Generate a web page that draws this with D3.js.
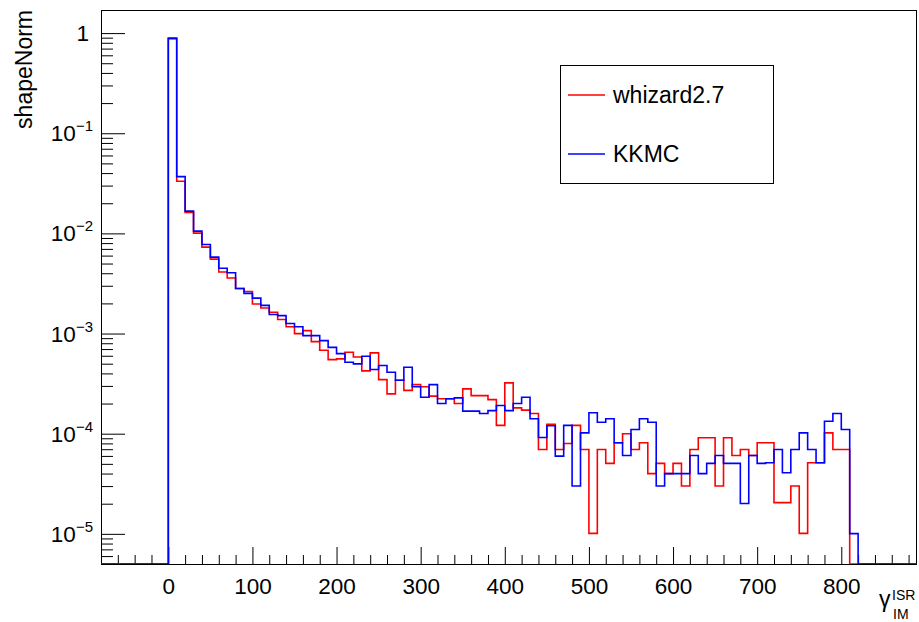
<!DOCTYPE html>
<html>
<head>
<meta charset="utf-8">
<script src="https://cdn.jsdelivr.net/npm/d3@7"></script>
<style>
  body { margin: 0; background: #fff; }
  text { font-family: "Liberation Sans", Arial, Helvetica, sans-serif; fill: #000; }
</style>
</head>
<body>
<div id="chart"></div>
<script>
// histogram bins: 10 units wide, first bin starts at 0
const binStart = 0, binWidth = 10;

// whizard2.7 (red), one entry per bin
const whizard = [
  0.898, 0.0332, 0.0162, 0.01007, 0.0073, 0.00554, 0.00412, 0.00359, 0.00282, 0.00263,
  0.00197, 0.0018, 0.00163, 0.00138, 0.00117, 0.000998, 0.00107, 0.00083, 0.00068, 0.000549,
  0.000558, 0.00065, 0.000584, 0.000424, 0.000641, 0.000347, 0.00025, 0.000342, 0.000271, 0.000309,
  0.000294, 0.000237, 0.000223, 0.000223, 0.0002, 0.00028, 0.00024, 0.00024, 0.000219, 0.000121,
  0.000322, 0.000181, 0.000172, 0.000159, 6.96e-5, 0.000124, 6.96e-5, 7.99e-5, 0.000121, 6.96e-5,
  1.01e-5, 6.96e-5, 5.05e-5, 8.12e-5, 0.0001, 6.96e-5, 8.12e-5, 3.99e-5, 5.05e-5, 3.99e-5,
  5.05e-5, 3.0e-5, 6.96e-5, 9.1e-5, 9.1e-5, 3.0e-5, 9.1e-5, 6.06e-5, 6.96e-5, 6.06e-5,
  8.12e-5, 8.12e-5, 2.05e-5, 2.05e-5, 3.0e-5, 1.01e-5, 5.13e-5, 5.13e-5, 0.000102, 6.96e-5,
  6.96e-5, 0
];

// KKMC (blue)
const kkmc = [
  0.877, 0.0369, 0.0167, 0.01054, 0.00775, 0.0058, 0.00449, 0.00405, 0.00282, 0.00252,
  0.00226, 0.00191, 0.00155, 0.00151, 0.00126, 0.00117, 0.000953, 0.000953, 0.00085, 0.000728,
  0.00063, 0.000516, 0.000498, 0.000593, 0.000437, 0.000479, 0.00041, 0.000342, 0.00046, 0.000294,
  0.000231, 0.000309, 0.0002, 0.000223, 0.000228, 0.000168, 0.000168, 0.000159, 0.00017, 0.000191,
  0.00017, 0.0002, 0.000231, 0.000141, 9.17e-5, 0.00012, 5.97e-5, 0.000121, 3.0e-5, 0.000102,
  0.000162, 0.00013, 0.000141, 8.12e-5, 6.06e-5, 0.00011, 0.000141, 0.00013, 3.0e-5, 3.99e-5,
  3.99e-5, 3.99e-5, 6.06e-5, 3.99e-5, 5.05e-5, 6.06e-5, 5.05e-5, 5.05e-5, 2.01e-5, 6.06e-5,
  5.05e-5, 5.13e-5, 6.96e-5, 4.08e-5, 6.96e-5, 0.000102, 6.96e-5, 5.13e-5, 0.000133, 0.000159,
  0.00011, 1.005e-5
];

const seriesNames = ["whizard2.7", "KKMC"];
const seriesColors = ["#ff0000", "#0000ff"];

const xMajor = [0, 100, 200, 300, 400, 500, 600, 700, 800];
const yMajor = [1e-5, 1e-4, 1e-3, 1e-2, 1e-1, 1];
const yExp = ["-5", "-4", "-3", "-2", "-1", ""];

const W = 919, H = 622;
const frame = {left: 101, right: 917, top: 10, bottom: 564};

const svg = d3.select("#chart").append("svg")
  .attr("width", W)
  .attr("height", H);

svg.append("rect").attr("width", W).attr("height", H).attr("fill", "#fff");

const x = d3.scaleLinear().domain([-80, 890]).range([frame.left, frame.right]);
const y = d3.scaleLog().domain([5e-6, 1.7]).range([frame.bottom, frame.top]);

// clip
svg.append("defs").append("clipPath").attr("id", "clip")
  .append("rect")
    .attr("x", frame.left).attr("y", frame.top)
    .attr("width", frame.right - frame.left)
    .attr("height", frame.bottom - frame.top);

// frame
svg.append("rect")
  .attr("x", frame.left + 0.5).attr("y", frame.top + 0.5)
  .attr("width", frame.right - frame.left - 1)
  .attr("height", frame.bottom - frame.top)
  .attr("fill", "none")
  .attr("stroke", "#000")
  .attr("stroke-width", 1);

// x axis: major + minor ticks pointing inward
const xMinor = d3.range(-80, 890, 20).filter(v => v % 100 !== 0);
svg.append("g")
  .attr("transform", "translate(0," + frame.bottom + ")")
  .call(d3.axisBottom(x).tickValues(xMinor).tickSizeInner(-9).tickSizeOuter(0).tickFormat(""))
  .call(g => g.select(".domain").remove());
svg.append("g")
  .attr("class", "x-axis")
  .attr("transform", "translate(0," + frame.bottom + ")")
  .call(d3.axisBottom(x).tickValues(xMajor).tickSizeInner(-17).tickSizeOuter(0).tickPadding(14))
  .call(g => g.select(".domain").remove())
  .call(g => g.selectAll("text")
    .style("font-size", "22.5px")
    .style("font-family", "'Liberation Sans', Arial, sans-serif"));
svg.selectAll(".tick line").attr("stroke", "#000");

// y axis: log ticks
const yMinor = [];
[1e-6, 1e-5, 1e-4, 1e-3, 1e-2, 1e-1, 1].forEach(d => {
  for (let m = 2; m <= 9; m++) {
    const v = m * d;
    if (v > 5e-6 && v < 1.7) yMinor.push(v);
  }
});
svg.append("g")
  .attr("transform", "translate(" + frame.left + ",0)")
  .call(d3.axisLeft(y).tickValues(yMinor).tickSizeInner(-12).tickSizeOuter(0).tickFormat(""))
  .call(g => g.select(".domain").remove());
svg.append("g")
  .attr("transform", "translate(" + frame.left + ",0)")
  .call(d3.axisLeft(y).tickValues(yMajor).tickSizeInner(-24).tickSizeOuter(0).tickFormat(""))
  .call(g => g.select(".domain").remove());
svg.selectAll(".tick line").attr("stroke", "#000");

// y tick labels with exponents
const yLab = svg.append("g");
yMajor.forEach((v, i) => {
  const t = yLab.append("text")
    .attr("x", yExp[i] === "" ? 89 : 93)
    .attr("y", y(v) + 8)
    .attr("text-anchor", "end")
    .style("font-size", "22.5px");
  t.append("tspan").text(yExp[i] === "" ? "1" : "10");
  if (yExp[i] !== "") {
    t.append("tspan")
      .attr("dy", -10)
      .style("font-size", "15px")
      .text(yExp[i].replace("-", "\u2212"));
  }
});

// histogram outlines
function histPath(vals) {
  const pts = [[x(-80), frame.bottom], [x(binStart), frame.bottom]];
  vals.forEach((v, i) => {
    const yy = v > 0 ? y(v) : frame.bottom;
    pts.push([x(binStart + i * binWidth), yy]);
    pts.push([x(binStart + (i + 1) * binWidth), yy]);
  });
  pts.push([x(binStart + vals.length * binWidth), frame.bottom]);
  pts.push([x(890), frame.bottom]);
  return d3.line()(pts);
}

const plot = svg.append("g").attr("clip-path", "url(#clip)");
[whizard, kkmc].forEach((vals, i) => {
  plot.append("path")
    .attr("d", histPath(vals))
    .attr("fill", "none")
    .attr("stroke", seriesColors[i])
    .attr("stroke-width", 1.6);
});

// axis titles
svg.append("text")
  .attr("transform", "translate(32," + (frame.top) + ") rotate(-90)")
  .attr("text-anchor", "end")
  .style("font-size", "23px")
  .text("shapeNorm");

svg.append("text").attr("x", 879).attr("y", 607).style("font-size", "23px").text("\u03b3");
svg.append("text").attr("x", 892).attr("y", 600).style("font-size", "14px").text("ISR");
svg.append("text").attr("x", 893).attr("y", 619).style("font-size", "14px").text("IM");

// legend
const leg = svg.append("g");
leg.append("rect")
  .attr("x", 560.5).attr("y", 65.5)
  .attr("width", 213).attr("height", 118)
  .attr("fill", "#fff").attr("stroke", "#000");
seriesNames.forEach((name, i) => {
  const ly = 95 + i * 59;
  leg.append("line")
    .attr("x1", 568).attr("x2", 605)
    .attr("y1", ly).attr("y2", ly)
    .attr("stroke", seriesColors[i]).attr("stroke-width", 1.6);
  leg.append("text")
    .attr("x", 613).attr("y", ly + 8)
    .style("font-size", "23px")
    .text(name);
});
</script>
</body>
</html>
